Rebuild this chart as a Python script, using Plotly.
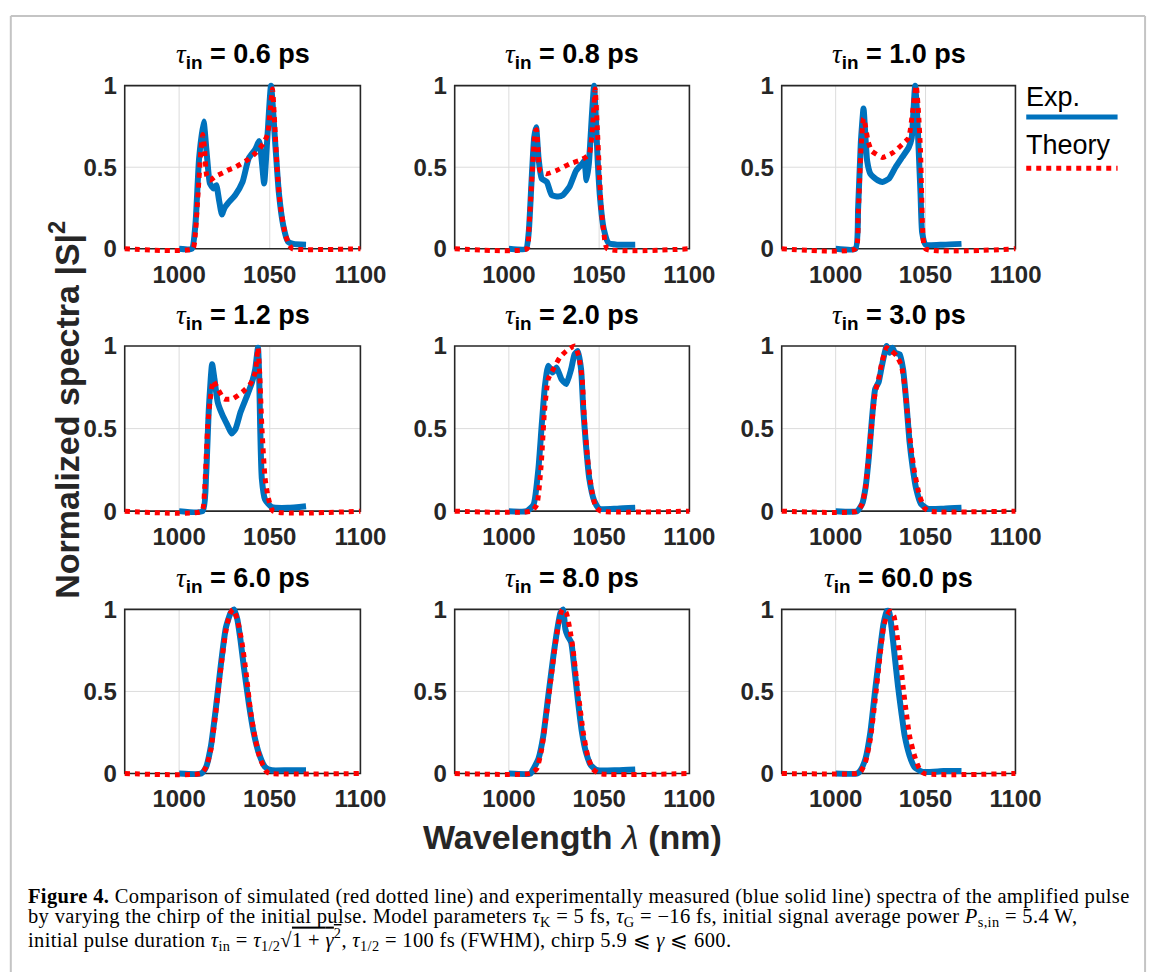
import plotly.graph_objects as go

# ---- panel labels: initial pulse duration tau_in (ps) ----
TAU_IN = ["0.6", "0.8", "1.0", "1.2", "2.0", "3.0", "6.0", "8.0", "60.0"]

# ---- axis ticks ----
X_TICKS = [1000, 1050, 1100]
Y_TICKS = [0, 0.5, 1]
Y_TICK_TEXT = ["0", "0.5", "1"]
X_RANGE = [970, 1100]

# ---- measured spectra (wavelength nm, normalized |S|^2) ----
EXP_WL_06 = [1000, 1007, 1009, 1011, 1013.5, 1015.5, 1017, 1019, 1020.5, 1022, 1023.6, 1025, 1027,
             1031, 1035, 1038.4, 1042, 1044.2, 1045.5, 1046.9, 1048.5, 1050.7, 1052.9, 1055, 1057.4,
             1060, 1063, 1070]
EXP_S_06 = [0, 0, 0.15, 0.55, 0.78, 0.55, 0.40, 0.37, 0.39, 0.30, 0.21, 0.25, 0.28,
            0.33, 0.41, 0.555, 0.61, 0.66, 0.55, 0.40, 0.65, 1.0, 0.665, 0.345, 0.145,
            0.045, 0.03, 0.025]

EXP_WL_08 = [1000, 1009.5, 1011, 1012.5, 1014, 1015.1, 1016.5, 1018.2, 1021, 1023.7, 1027.3, 1030,
             1033.6, 1037.3, 1040.5, 1041.8, 1043, 1044.3, 1046, 1047.2, 1048.1, 1049.2, 1050.6,
             1052.5, 1055.2, 1060, 1070]
EXP_S_08 = [0, 0, 0.1, 0.4, 0.68, 0.745, 0.55, 0.43, 0.41, 0.33, 0.32, 0.33,
            0.38, 0.48, 0.52, 0.54, 0.42, 0.52, 0.82, 1.0, 0.82, 0.54, 0.30,
            0.125, 0.035, 0.025, 0.025]

EXP_WL_10 = [1000, 1011, 1012.5, 1014, 1015.5, 1016.6, 1017.5, 1019.3, 1021, 1023.4, 1026, 1029.7,
             1033.3, 1036.9, 1040.6, 1042.3, 1043.3, 1044.2, 1045.2, 1046.2, 1047.2, 1048.1, 1050,
             1060, 1070]
EXP_S_10 = [0, 0, 0.25, 0.65, 0.86, 0.68, 0.54, 0.46, 0.44, 0.42, 0.41, 0.43,
            0.50, 0.56, 0.62, 0.68, 0.85, 1.0, 0.85, 0.6, 0.34, 0.1, 0.026,
            0.025, 0.03]

EXP_WL_12 = [1000, 1013, 1014.9, 1016.4, 1018.2, 1019.5, 1021.3, 1024, 1026.7, 1029, 1031.2, 1033.9,
             1037.5, 1040.2, 1042, 1043.5, 1044.2, 1044.7, 1045.6, 1047.4, 1051, 1060, 1070]
EXP_S_12 = [0, 0, 0.22, 0.62, 0.89, 0.80, 0.66, 0.58, 0.52, 0.47, 0.50, 0.60,
            0.70, 0.78, 0.86, 0.99, 0.80, 0.52, 0.20, 0.07, 0.025, 0.02, 0.03]

EXP_WL_20 = [1000, 1010, 1013.7, 1016.4, 1018.2, 1020, 1021.8, 1024.2, 1026.4, 1029.1, 1031.8, 1034.5,
             1036.4, 1038.2, 1040, 1041.2, 1042.7, 1044.5, 1047.2, 1050, 1060, 1070]
EXP_S_20 = [0, 0, 0.04, 0.26, 0.52, 0.76, 0.88, 0.84, 0.87, 0.80, 0.77, 0.86,
            0.95, 0.97, 0.86, 0.62, 0.40, 0.20, 0.065, 0.015, 0.015, 0.02]

EXP_WL_30 = [1000, 1012, 1014.8, 1016.6, 1018.4, 1020.2, 1022, 1023.9, 1025.7, 1028.4, 1030, 1031.6,
             1033, 1035.6, 1037.5, 1039.3, 1041.1, 1042.9, 1044.7, 1047.4, 1051, 1060, 1070]
EXP_S_30 = [0, 0, 0.045, 0.14, 0.32, 0.56, 0.74, 0.78, 0.88, 1.0, 0.96, 0.99,
            0.96, 0.95, 0.86, 0.66, 0.42, 0.26, 0.14, 0.045, 0.015, 0.015, 0.02]

EXP_WL_60 = [1000, 1012.2, 1014.9, 1017.6, 1020.4, 1023.1, 1025.8, 1028.5, 1030.3, 1032.1, 1033.9,
             1035.7, 1038.4, 1041.1, 1043.8, 1047.4, 1051, 1060, 1070]
EXP_S_60 = [0, 0, 0.04, 0.17, 0.41, 0.67, 0.89, 0.98, 1.0, 0.94, 0.81,
            0.65, 0.43, 0.25, 0.13, 0.04, 0.02, 0.02, 0.02]

EXP_WL_80 = [1000, 1012, 1013.7, 1016.4, 1019.1, 1021.8, 1024.6, 1026.7, 1028.6, 1030, 1031.3,
             1032.5, 1034.5, 1036.4, 1038.2, 1040.5, 1042.7, 1045.4, 1049, 1060, 1070]
EXP_S_80 = [0, 0, 0.03, 0.09, 0.23, 0.47, 0.71, 0.87, 0.98, 1.0, 0.88,
            0.84, 0.80, 0.63, 0.45, 0.25, 0.13, 0.05, 0.02, 0.02, 0.025]

EXP_WL_600 = [1000, 1012, 1013.9, 1016.6, 1019.3, 1022, 1024.4, 1026.6, 1028.4, 1029.7, 1031.1,
              1032.9, 1034.7, 1036.6, 1038.4, 1041.1, 1043.8, 1048.3, 1060, 1070]
EXP_S_600 = [0, 0, 0.02, 0.09, 0.25, 0.51, 0.73, 0.91, 0.99, 0.99, 0.89,
             0.71, 0.53, 0.37, 0.23, 0.11, 0.04, 0.01, 0.015, 0.015]

# ---- simulated spectra (wavelength nm, normalized |S|^2) ----
THY_WL_06 = [970, 1007.5, 1009, 1010.5, 1012, 1013, 1014, 1015.2, 1017, 1020.3, 1024, 1027.6, 1031,
             1034.8, 1038.5, 1042, 1046.5, 1048.9, 1050.2, 1051.5, 1052.8, 1054, 1055.8, 1058.6,
             1061, 1062.5, 1100]
THY_S_06 = [0, 0, 0.1, 0.35, 0.6, 0.70, 0.62, 0.45, 0.42, 0.445, 0.465, 0.485, 0.50,
            0.525, 0.55, 0.585, 0.645, 0.705, 0.85, 0.98, 0.75, 0.505, 0.265, 0.085,
            0.02, 0, 0]

THY_WL_08 = [970, 1010, 1011, 1012.8, 1014.6, 1015.3, 1016.2, 1017.3, 1021, 1026.4, 1033.6, 1040.9,
             1044.5, 1046.7, 1047.8, 1049, 1050, 1051.2, 1052.6, 1054.5, 1100]
THY_S_08 = [0, 0, 0.1, 0.44, 0.72, 0.73, 0.6, 0.48, 0.46, 0.48, 0.52, 0.55,
            0.58, 0.8, 0.98, 0.74, 0.5, 0.24, 0.1, 0, 0]

THY_WL_10 = [970, 1011, 1012.5, 1014, 1015.5, 1016.6, 1018, 1020, 1022.6, 1026, 1032, 1037, 1040.6,
             1042.8, 1044.8, 1046, 1047.2, 1047.8, 1048.4, 1050, 1100]
THY_S_10 = [0, 0, 0.2, 0.6, 0.80, 0.75, 0.66, 0.6, 0.58, 0.56, 0.59, 0.64, 0.68,
            0.84, 1.0, 0.85, 0.6, 0.34, 0.12, 0, 0]

THY_WL_12 = [970, 1012.5, 1014, 1015.8, 1017.6, 1018.9, 1021.3, 1024.9, 1029.4, 1034.8, 1039.3, 1042,
             1043.5, 1044.5, 1045.6, 1047.4, 1049.2, 1051.9, 1100]
THY_S_12 = [0, 0, 0.12, 0.52, 0.72, 0.79, 0.74, 0.68, 0.68, 0.72, 0.77, 0.84,
            0.99, 0.82, 0.52, 0.20, 0.08, 0, 0]

THY_WL_20 = [970, 1012.5, 1015.5, 1017.9, 1019.7, 1021.8, 1024.6, 1028.2, 1031.8, 1036.4, 1038.7,
             1040.6, 1041.8, 1043.6, 1046, 1048.1, 1050.9, 1100]
THY_S_20 = [0, 0, 0.04, 0.28, 0.60, 0.80, 0.86, 0.93, 0.97, 1.0, 0.94,
            0.80, 0.56, 0.32, 0.12, 0.025, 0, 0]

THY_WL_30 = [970, 1012, 1014.8, 1016.6, 1018.4, 1020.2, 1022, 1023.9, 1025.7, 1028.4, 1031.1, 1034,
             1036.6, 1038.4, 1040.2, 1042, 1043.8, 1046.5, 1049.3, 1052, 1100]
THY_S_30 = [0, 0, 0.045, 0.14, 0.34, 0.54, 0.72, 0.80, 0.90, 0.99, 0.97, 0.94,
            0.88, 0.76, 0.56, 0.38, 0.24, 0.10, 0.02, 0, 0]

THY_WL_60 = [970, 1012, 1014.9, 1017.6, 1020.4, 1023.1, 1025.8, 1027.9, 1029.7, 1032.1, 1034.8, 1037,
             1039.3, 1042, 1044.7, 1048.3, 1050, 1100]
THY_S_60 = [0, 0, 0.04, 0.15, 0.39, 0.65, 0.87, 0.97, 1.0, 0.94, 0.79, 0.61,
            0.39, 0.21, 0.09, 0.01, 0, 0]

THY_WL_80 = [970, 1012, 1015.5, 1018.2, 1020.9, 1023.7, 1026, 1028.2, 1029.6, 1031.8, 1033.6, 1035.4,
             1037.3, 1039.1, 1041.2, 1043.6, 1046.3, 1050, 1100]
THY_S_80 = [0, 0, 0.03, 0.15, 0.37, 0.61, 0.81, 0.95, 1.0, 0.98, 0.89, 0.77,
            0.59, 0.43, 0.25, 0.11, 0.03, 0, 0]

THY_WL_600 = [970, 1012, 1013.9, 1016.6, 1019.3, 1022, 1024.4, 1026.6, 1028.4, 1030.2, 1032.4,
              1033.8, 1035.7, 1037.5, 1039.3, 1041.1, 1043.8, 1046.5, 1049.3, 1100]
THY_S_600 = [0, 0, 0.01, 0.07, 0.21, 0.45, 0.69, 0.89, 0.96, 0.99, 0.96,
             0.87, 0.71, 0.53, 0.37, 0.23, 0.11, 0.03, 0, 0]

EXP_WL = [EXP_WL_06, EXP_WL_08, EXP_WL_10, EXP_WL_12, EXP_WL_20, EXP_WL_30, EXP_WL_60, EXP_WL_80, EXP_WL_600]
EXP_S = [EXP_S_06, EXP_S_08, EXP_S_10, EXP_S_12, EXP_S_20, EXP_S_30, EXP_S_60, EXP_S_80, EXP_S_600]
THY_WL = [THY_WL_06, THY_WL_08, THY_WL_10, THY_WL_12, THY_WL_20, THY_WL_30, THY_WL_60, THY_WL_80, THY_WL_600]
THY_S = [THY_S_06, THY_S_08, THY_S_10, THY_S_12, THY_S_20, THY_S_30, THY_S_60, THY_S_80, THY_S_600]

# ---- page geometry (pixels) ----
W, H = 1170, 980
COL_LEFT = [127, 463, 796]
COL_RIGHT = [367, 702, 1034]
ROW_TOP = [78, 343, 611]
ROW_BOTTOM = [244, 511, 778]
PAD = 5  # extra room around each box so thick lines at the edges are not clipped

BLUE = "#0072BD"
RED = "#FF0000"
AXCOL = "#262626"
GRIDCOL = "#dcdcdc"
SANS = "Liberation Sans, Arial, sans-serif"
SERIF = "Liberation Serif, Times New Roman, serif"


def px_x(p):
    return p / W


def px_y(p):
    return 1 - p / H


fig = go.Figure()
layout = dict(
    width=W, height=H, autosize=False,
    margin=dict(l=0, r=0, t=0, b=0),
    paper_bgcolor="white", plot_bgcolor="white",
    showlegend=False,
)
shapes = []
annotations = []

for k in range(9):
    r, c = divmod(k, 3)
    n = "" if k == 0 else str(k + 1)
    L, R = COL_LEFT[c], COL_RIGHT[c]
    T, B = ROW_TOP[r], ROW_BOTTOM[r]
    xspan = X_RANGE[1] - X_RANGE[0]
    dx = PAD * xspan / (R - L)
    dy = PAD * 1.0 / (B - T)

    layout["xaxis" + n] = dict(
        domain=[px_x(L - PAD), px_x(R + PAD)],
        range=[X_RANGE[0] - dx, X_RANGE[1] + dx],
        anchor="y" + n,
        showgrid=False, zeroline=False, showline=False, ticks="",
        tickmode="array", tickvals=X_TICKS,
        tickfont=dict(family=SANS, size=24, color=AXCOL, weight="bold"),
        ticklabelstandoff=4,
        fixedrange=True,
    )
    layout["yaxis" + n] = dict(
        domain=[px_y(B + PAD), px_y(T - PAD)],
        range=[-dy, 1 + dy],
        anchor="x" + n,
        showgrid=False, zeroline=False, showline=False, ticks="",
        tickmode="array", tickvals=Y_TICKS, ticktext=Y_TICK_TEXT,
        tickfont=dict(family=SANS, size=24, color=AXCOL, weight="bold"),
        ticklabelstandoff=2,
        fixedrange=True,
    )

    xr, yr = "x" + n, "y" + n
    # grid lines and axes box
    for gx in X_TICKS[:-1]:
        shapes.append(dict(type="line", xref=xr, yref=yr, x0=gx, x1=gx, y0=0, y1=1,
                           line=dict(color=GRIDCOL, width=1), layer="below"))
    shapes.append(dict(type="line", xref=xr, yref=yr, x0=X_RANGE[0], x1=X_RANGE[1], y0=0.5, y1=0.5,
                       line=dict(color=GRIDCOL, width=1), layer="below"))
    shapes.append(dict(type="rect", xref=xr, yref=yr, x0=X_RANGE[0], x1=X_RANGE[1], y0=0, y1=1,
                       line=dict(color=AXCOL, width=1.6), layer="below"))

    fig.add_trace(go.Scatter(
        x=EXP_WL[k], y=EXP_S[k], mode="lines", xaxis=xr, yaxis=yr,
        line=dict(color=BLUE, width=6, shape="spline", smoothing=0.5),
        name="Exp.", hoverinfo="skip",
    ))
    fig.add_trace(go.Scatter(
        x=THY_WL[k], y=THY_S[k], mode="lines", xaxis=xr, yaxis=yr,
        line=dict(color=RED, width=5, dash="5px,5px", shape="spline", smoothing=0.5),
        name="Theory", hoverinfo="skip",
    ))

    # panel title
    annotations.append(dict(
        xref="paper", yref="paper", x=px_x((L + R) / 2), y=px_y(T - 30),
        xanchor="center", yanchor="middle", showarrow=False,
        text=("<span style='font-family:Liberation Serif'><i>τ</i></span>"
              "<sub><b>in</b></sub><b> = " + TAU_IN[k] + " ps</b>"),
        font=dict(family=SANS, size=27, color="black"),
    ))

# shared axis titles
annotations.append(dict(
    xref="paper", yref="paper", x=px_x(66), y=px_y(408), textangle=-90,
    xanchor="center", yanchor="middle", showarrow=False,
    text="<b>Normalized spectra |S|<sup>2</sup></b>",
    font=dict(family=SANS, size=34, color=AXCOL),
))
annotations.append(dict(
    xref="paper", yref="paper", x=px_x(583), y=px_y(843),
    xanchor="center", yanchor="middle", showarrow=False,
    text="<b>Wavelength </b><i>λ</i><b> (nm)</b>",
    font=dict(family=SANS, size=34, color=AXCOL),
))

# legend
annotations.append(dict(
    xref="paper", yref="paper", x=px_x(1043), y=px_y(90),
    xanchor="left", yanchor="middle", showarrow=False,
    text="Exp.", font=dict(family=SANS, size=27, color="black"),
))
annotations.append(dict(
    xref="paper", yref="paper", x=px_x(1043), y=px_y(138),
    xanchor="left", yanchor="middle", showarrow=False,
    text="Theory", font=dict(family=SANS, size=27, color="black"),
))
shapes.append(dict(type="line", xref="paper", yref="paper",
                   x0=px_x(1045), x1=px_x(1138), y0=px_y(110), y1=px_y(110),
                   line=dict(color=BLUE, width=5)))
shapes.append(dict(type="line", xref="paper", yref="paper",
                   x0=px_x(1045), x1=px_x(1138), y0=px_y(162), y1=px_y(162),
                   line=dict(color=RED, width=5, dash="5px,5px")))

# caption
CAPTION = [
    "<b>Figure 4.</b> Comparison of simulated (red dotted line) and experimentally measured (blue solid line) "
    "spectra of the amplified pulse",
    "by varying the chirp of the initial pulse. Model parameters <i>τ</i><sub>K</sub> = 5 fs, "
    "<i>τ</i><sub>G</sub> = −16 fs, initial signal average power <i>P</i><sub>s,in</sub> = 5.4 W,",
    "initial pulse duration <i>τ</i><sub>in</sub> = <i>τ</i><sub>1/2</sub>"
    "√<span style='text-decoration:overline'>1 + <i>γ</i><sup>2</sup></span>, "
    "<i>τ</i><sub>1/2</sub> = 100 fs (FWHM), chirp 5.9 ⩽ <i>γ</i> ⩽ 600.",
]
for line, yc in zip(CAPTION, [903, 925, 947]):
    annotations.append(dict(
        xref="paper", yref="paper", x=px_x(26), y=px_y(yc),
        xanchor="left", yanchor="middle", showarrow=False,
        text="<span style='letter-spacing:0.35px'>" + line + "</span>",
        font=dict(family=SERIF, size=20.5, color="black"),
    ))

# page frame
FRAME = "#c4c4c4"
shapes.append(dict(type="line", xref="paper", yref="paper", x0=px_x(11), x1=px_x(11),
                   y0=px_y(7), y1=0, line=dict(color=FRAME, width=2)))
shapes.append(dict(type="line", xref="paper", yref="paper", x0=px_x(11), x1=px_x(1166),
                   y0=px_y(7), y1=px_y(7), line=dict(color=FRAME, width=2)))
shapes.append(dict(type="line", xref="paper", yref="paper", x0=px_x(1166), x1=px_x(1166),
                   y0=px_y(7), y1=0, line=dict(color=FRAME, width=2)))

layout["shapes"] = shapes
layout["annotations"] = annotations
fig.update_layout(**layout)

fig.write_html("out.html", config={"displayModeBar": False})
